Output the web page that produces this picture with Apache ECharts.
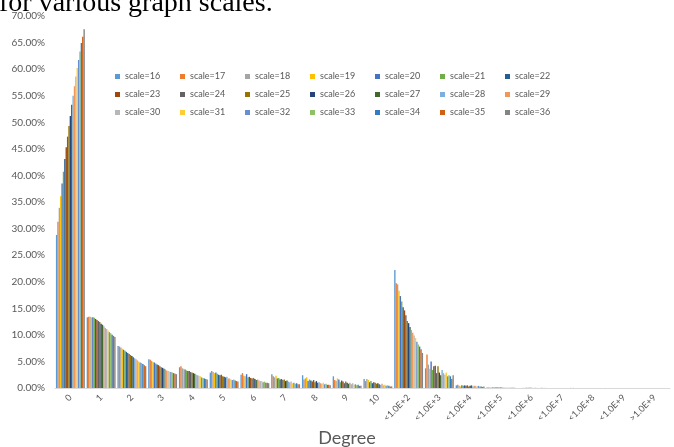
<!DOCTYPE html>
<html>
<head>
<meta charset="utf-8">
<script src="https://cdn.jsdelivr.net/npm/echarts@6/dist/echarts.min.js"></script>
<style>
html,body{margin:0;padding:0;background:#fff;}
#chart{width:674px;height:447px;}
</style>
</head>
<body>
<div id="chart"></div>
<script>
// Category (degree bucket) labels
const categories = ['0','1','2','3','4','5','6','7','8','9','10',
  '<1.0E+2','<1.0E+3','<1.0E+4','<1.0E+5','<1.0E+6','<1.0E+7','<1.0E+8','<1.0E+9','>1.0E+9'];

// Graph scales (series)
const scales = [16,17,18,19,20,21,22,23,24,25,26,27,28,29,30,31,32,33,34,35,36];

// Percent of vertices per degree bucket, one value per scale (16..36)
const deg0  = [28.8,31.3,33.9,36.1,38.5,40.7,43.1,45.3,47.3,49.3,51.2,53.3,55.0,56.8,58.6,60.2,61.7,63.3,64.9,66.1,67.5];
const deg1  = [13.3,13.4,13.4,13.3,13.3,13.2,13.0,12.8,12.6,12.4,12.1,11.9,11.6,11.3,11.1,10.8,10.5,10.3,10.0,9.8,9.6];
const deg2  = [7.9,7.8,7.6,7.4,7.2,7.0,6.8,6.6,6.4,6.2,6.0,5.8,5.6,5.4,5.2,5.0,4.8,4.7,4.5,4.3,4.1];
const deg3  = [5.4,5.3,5.1,4.9,4.8,4.6,4.4,4.3,4.1,3.9,3.8,3.6,3.5,3.3,3.2,3.1,3.0,2.9,2.8,2.7,2.6];
const deg4  = [3.9,4.1,3.7,3.6,3.5,3.3,3.2,3.2,3.0,2.9,2.8,2.7,2.5,2.4,2.3,2.2,2.0,1.9,1.8,1.7,1.6];
const deg5  = [2.9,3.2,3.0,2.8,2.9,2.7,2.5,2.4,2.5,2.2,2.1,2.0,2.1,1.8,1.8,1.6,1.5,1.6,1.4,1.3,1.2];
const deg6  = [2.5,2.8,2.3,2.2,2.6,2.0,2.1,1.9,1.8,1.9,1.7,1.5,1.6,1.4,1.3,1.3,1.1,1.2,1.0,1.0,0.9];
const deg7  = [2.6,2.2,2.0,2.3,1.8,1.9,1.6,1.7,1.5,1.6,1.3,1.4,1.2,1.1,1.2,0.9,1.0,0.8,0.9,0.7,0.7];
const deg8  = [2.4,1.6,1.8,2.0,1.3,1.6,1.4,1.2,1.5,1.1,1.3,1.0,1.1,0.9,0.8,1.0,0.7,0.8,0.6,0.6,0.5];
const deg9  = [2.2,1.5,1.3,1.8,1.6,1.1,1.4,1.2,0.9,1.2,1.0,0.8,1.0,0.7,0.9,0.6,0.7,0.5,0.6,0.4,0.4];
const deg10 = [1.7,1.3,1.7,1.5,1.1,1.3,0.9,1.1,1.0,0.8,0.9,0.7,0.6,0.8,0.5,0.6,0.4,0.5,0.4,0.3,0.3];
const lt1e2 = [22.2,19.7,19.5,18.3,17.3,16.3,15.2,14.6,13.7,12.6,12.2,11.5,10.9,10.4,9.9,9.4,8.7,8.2,7.8,7.3,6.6];
const lt1e3 = [3.7,6.3,4.4,3.6,5.0,3.4,4.1,4.2,2.8,4.1,2.9,2.4,3.4,2.8,2.5,2.9,2.2,2.4,2.2,1.7,2.4];
const lt1e4 = [0.5,0.6,0.4,0.3,0.5,0.4,0.5,0.4,0.5,0.3,0.4,0.5,0.3,0.4,0.4,0.3,0.4,0.3,0.3,0.2,0.3];
const lt1e5 = [0.10,0.09,0.10,0.08,0.10,0.09,0.08,0.09,0.08,0.07,0.08,0.07,0.07,0.06,0.07,0.06,0.06,0.05,0.05,0.05,0.04];
const lt1e6 = [0,0,0,0,0.02,0.02,0.03,0.02,0.03,0.03,0.03,0.02,0.03,0.03,0.02,0.03,0.02,0.03,0.02,0.02,0.02];
const lt1e7 = [0,0,0,0,0,0,0,0,0,0,0,0,0,0,0,0,0.02,0.02,0.02,0.02,0.02];
const lt1e8 = [0,0,0,0,0,0,0,0,0,0,0,0,0,0,0,0,0,0,0,0.01,0.01];
const lt1e9 = [0,0,0,0,0,0,0,0,0,0,0,0,0,0,0,0,0,0,0,0,0];
const gt1e9 = [0,0,0,0,0,0,0,0,0,0,0,0,0,0,0,0,0,0,0,0,0];

const yTicks = {min: 0, max: 70, interval: 5};

const buckets = [deg0,deg1,deg2,deg3,deg4,deg5,deg6,deg7,deg8,deg9,deg10,
  lt1e2,lt1e3,lt1e4,lt1e5,lt1e6,lt1e7,lt1e8,lt1e9,gt1e9];

const colors = ['#5B9BD5','#ED7D31','#A5A5A5','#FFC000','#4472C4','#70AD47','#255E91',
  '#9E480E','#636363','#997300','#264478','#43682B','#7CAFDD','#F1975A',
  '#B7B7B7','#FFCD33','#698ED0','#8CC168','#327DC2','#D26012','#848484'];

const names = scales.map(s => 'scale=' + s);
const series = names.map((n, i) => ({
  name: n,
  type: 'bar',
  data: buckets.map(b => b[i]),
  barGap: '0%',
  barCategoryGap: '6%',
  itemStyle: {color: colors[i]}
}));

const legends = names.map((n, i) => ({
  data: [n],
  left: 115 + (i % 7) * 65,
  top: 72 + Math.floor(i / 7) * 18,
  padding: 0,
  itemWidth: 5,
  itemHeight: 5,
  icon: 'rect',
  selectedMode: false,
  textStyle: {fontFamily: 'Lato', fontSize: 9, color: '#595959'}
}));

const chart = echarts.init(document.getElementById('chart'));
chart.setOption({
  animation: false,
  color: colors,
  title: {
    text: 'for various graph scales.',
    left: -1, top: -10, padding: 0,
    textStyle: {fontFamily: 'Liberation Serif', fontSize: 28, fontWeight: 'normal', color: '#000'}
  },
  legend: legends,
  grid: {left: 55, right: 4, top: 16, bottom: 59},
  xAxis: {
    type: 'category',
    data: categories,
    axisLine: {lineStyle: {color: '#D9D9D9'}},
    axisTick: {show: false},
    axisLabel: {rotate: 45, interval: 0, fontFamily: 'Lato', fontSize: 9, color: '#595959', margin: 8}
  },
  yAxis: {
    type: 'value',
    min: yTicks.min, max: yTicks.max, interval: yTicks.interval,
    axisLine: {show: false},
    axisTick: {show: false},
    splitLine: {show: false},
    axisLabel: {fontFamily: 'Lato', fontSize: 10, color: '#595959', margin: 10,
      formatter: v => v.toFixed(2) + '%'}
  },
  graphic: [{
    type: 'text',
    x: 347, y: 438,
    style: {text: 'Degree', fontFamily: 'Lato', fontSize: 18, fill: '#595959',
      align: 'center', verticalAlign: 'middle'}
  }],
  series: series
});
</script>
</body>
</html>
